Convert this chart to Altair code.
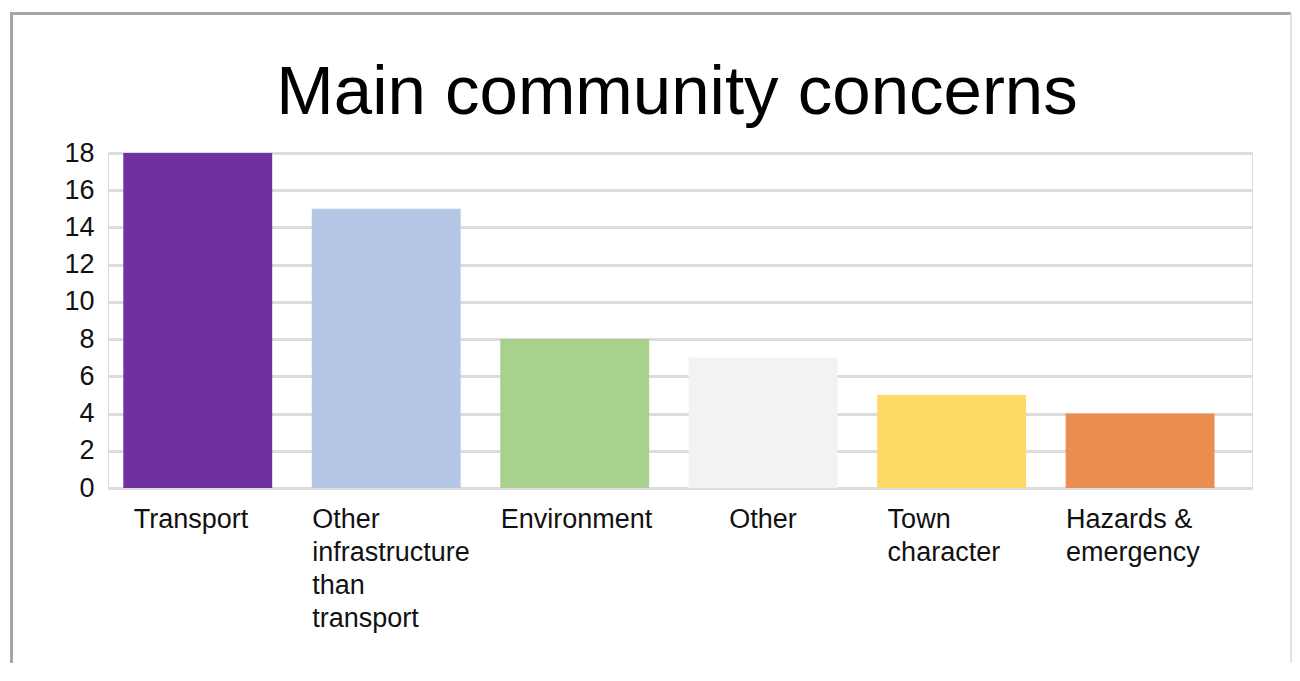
import altair as alt
import pandas as pd

categories = ["Transport", "Other infrastructure than transport", "Environment",
              "Other", "Town character", "Hazards & emergency"]
label_lines = ["Transport", "Other|infrastructure|than|transport", "Environment",
               "Other", "Town|character", "Hazards &|emergency"]
values = [18, 15, 8, 7, 5, 4]
colors = ["#7030A0", "#B4C7E7", "#A9D18E", "#F2F2F2", "#FFD966", "#E98E4E"]
y_ticks = [0, 2, 4, 6, 8, 10, 12, 14, 16, 18]

df = pd.DataFrame({"category": categories, "value": values, "label": label_lines})
label_map = {c: l for c, l in zip(categories, label_lines)}
label_expr = "split({" + ", ".join(f"'{c}': '{l}'" for c, l in label_map.items()) + "}[datum.label], '|')"

FONT = "Liberation Sans, Arial, Helvetica, sans-serif"

label_offset = {
    "condition": [
        {"test": "datum.value == 'Transport' || datum.value == 'Town character'", "value": -64},
        {"test": "datum.value == 'Other'", "value": -34},
    ],
    "value": -74,
}

bars = alt.Chart(df).mark_bar().encode(
    x=alt.X("category:N", sort=categories, title=None,
            scale=alt.Scale(paddingInner=0.21, paddingOuter=0.14, align=0.29),
            axis=alt.Axis(labelAngle=0, labelAlign="left", labelOffset=label_offset,
                          labelExpr=label_expr, labelFontSize=27, labelFont=FONT,
                          labelColor="#111111", labelPadding=18, labelLineHeight=33,
                          labelBaseline="top", ticks=False, domain=False, grid=False,
                          labelLimit=400)),
    y=alt.Y("value:Q", title=None,
            scale=alt.Scale(domain=[0, 18], nice=False),
            axis=alt.Axis(values=y_ticks, labelFontSize=27, labelFont=FONT,
                          labelColor="#111111", labelPadding=14, ticks=False,
                          domain=False, grid=True, gridColor="#DCDCDC", gridWidth=3)),
    color=alt.Color("category:N", sort=categories,
                    scale=alt.Scale(domain=categories, range=colors), legend=None),
)

frame_data = alt.Data(values=[{"k": 1}])
left_border = alt.Chart(frame_data).mark_rule(color="#A6A6A6", strokeWidth=3).encode(
    x=alt.value(-96.5), y=alt.value(-139.5), y2=alt.value(540))
top_border = alt.Chart(frame_data).mark_rule(color="#A6A6A6", strokeWidth=3).encode(
    x=alt.value(-98), x2=alt.value(1183), y=alt.value(-139.5))
right_border = alt.Chart(frame_data).mark_rule(color="#DADADA", strokeWidth=1.5).encode(
    x=alt.value(1183), y=alt.value(-139.5), y2=alt.value(540))

chart = alt.layer(bars, left_border, top_border, right_border).properties(
    width=1144, height=335,
    title=alt.TitleParams("Main community concerns", fontSize=69, font=FONT,
                          fontWeight="normal", color="#000000", anchor="middle",
                          frame="group", baseline="alphabetic", offset=0, dy=171, dx=-3),
    autosize=alt.AutoSizeParams(type="none"),
    padding={"left": 100, "top": 145, "right": 40, "bottom": 175},
).configure_view(stroke=None).configure(background="white")

chart.save("out.html", embed_options={"renderer": "svg", "actions": False})
